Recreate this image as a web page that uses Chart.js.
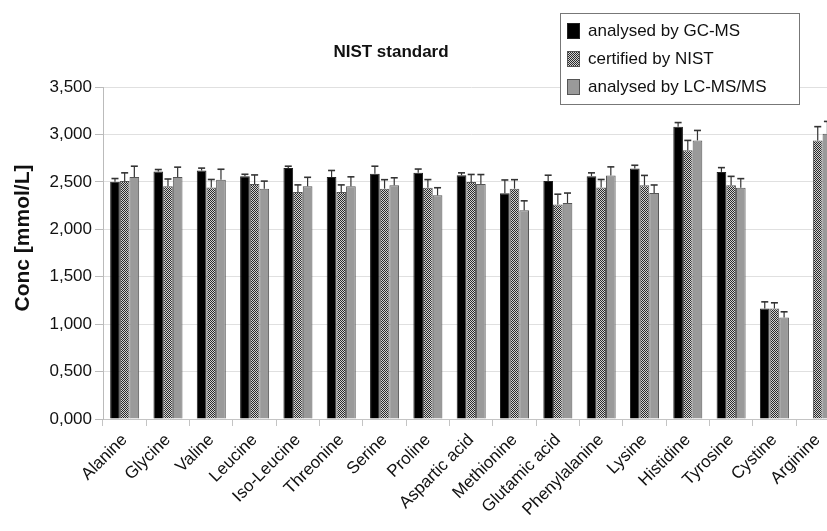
<!DOCTYPE html>
<html>
<head>
<meta charset="utf-8">
<script src="https://cdn.jsdelivr.net/npm/chart.js@4.4.0/dist/chart.umd.min.js"></script>
<style>
  html, body { margin: 0; padding: 0; background: #fff; overflow: hidden; }
  /* the reference is cropped on the right, so the canvas is wider than the window */
  #wrap { width: 827px; height: 531px; overflow: hidden; }
  canvas { display: block; }
</style>
</head>
<body>
<div id="wrap"><canvas id="nistChart" width="845" height="531"></canvas></div>
<script>
/* ── Data (mmol/L) ── */
const aminoAcids = ["Alanine", "Glycine", "Valine", "Leucine", "Iso-Leucine", "Threonine",
  "Serine", "Proline", "Aspartic acid", "Methionine", "Glutamic acid", "Phenylalanine",
  "Lysine", "Histidine", "Tyrosine", "Cystine", "Arginine"];

const gcms    = [2.500, 2.610, 2.620, 2.560, 2.645, 2.550, 2.585, 2.595, 2.570, 2.380, 2.510, 2.560, 2.640, 3.080, 2.605, 1.165, null];
const gcmsErr = [0.035, 0.020, 0.025, 0.020, 0.020, 0.070, 0.080, 0.040, 0.025, 0.140, 0.060, 0.035, 0.035, 0.045, 0.045, 0.070, 0];

const nist    = [2.510, 2.455, 2.440, 2.478, 2.393, 2.393, 2.428, 2.439, 2.498, 2.428, 2.260, 2.440, 2.463, 2.832, 2.463, 1.165, 2.937];
const nistErr = [0.085, 0.075, 0.085, 0.095, 0.075, 0.075, 0.095, 0.085, 0.080, 0.095, 0.110, 0.085, 0.105, 0.105, 0.095, 0.060, 0.145];

const lcms    = [2.550, 2.550, 2.523, 2.428, 2.453, 2.453, 2.463, 2.358, 2.477, 2.200, 2.277, 2.568, 2.382, 2.937, 2.439, 1.070, 3.007];
const lcmsErr = [0.115, 0.105, 0.110, 0.080, 0.095, 0.100, 0.080, 0.080, 0.100, 0.100, 0.105, 0.090, 0.085, 0.105, 0.095, 0.060, 0.130];

const seriesNames = ["analysed by GC-MS", "certified by NIST", "analysed by LC-MS/MS"];

/* ── Styling ── */
const FONT = "'Liberation Sans', Arial, sans-serif";
const TEXT = "#111";
Chart.defaults.font.family = FONT;

/* checkered fill for the NIST bars */
function checker() {
  const c = document.createElement("canvas");
  c.width = 2; c.height = 2;
  const g = c.getContext("2d");
  g.fillStyle = "#d2d2d2"; g.fillRect(0, 0, 2, 2);
  g.fillStyle = "#2a2a2a"; g.fillRect(0, 0, 1, 1); g.fillRect(1, 1, 1, 1);
  return g.createPattern(c, "repeat");
}
const NIST_FILL = checker();

/* ── Error bars (upper only, with cap) ── */
const errorBars = {
  id: "errorBars",
  afterDatasetsDraw(chart) {
    const ctx = chart.ctx, y = chart.scales.y;
    ctx.save();
    ctx.strokeStyle = "#333";
    chart.data.datasets.forEach((ds, i) => {
      chart.getDatasetMeta(i).data.forEach((bar, j) => {
        const v = ds.data[j];
        if (v == null || !ds.errors[j]) return;
        const top = y.getPixelForValue(v + ds.errors[j]);
        ctx.lineWidth = 1.2;
        ctx.beginPath(); ctx.moveTo(bar.x, bar.y); ctx.lineTo(bar.x, top); ctx.stroke();
        ctx.lineWidth = 1.6;
        ctx.beginPath(); ctx.moveTo(bar.x - 3.5, top); ctx.lineTo(bar.x + 3.5, top); ctx.stroke();
      });
    });
    ctx.restore();
  }
};

/* ── Title, axis title and boxed legend ── */
const decorations = {
  id: "decorations",
  afterDraw(chart) {
    const ctx = chart.ctx;
    ctx.save();
    ctx.fillStyle = TEXT;
    ctx.textBaseline = "middle";

    ctx.font = "bold 17px " + FONT;
    ctx.textAlign = "center";
    ctx.fillText("NIST standard", 391, 52);

    ctx.save();
    ctx.translate(23, 238);
    ctx.rotate(-Math.PI / 2);
    ctx.font = "bold 21px " + FONT;
    ctx.fillText("Conc [mmol/L]", 0, 0);
    ctx.restore();

    /* legend box */
    ctx.fillStyle = "#fff";
    ctx.fillRect(560, 13, 239, 91);
    ctx.strokeStyle = "#777";
    ctx.lineWidth = 1;
    ctx.strokeRect(560.5, 13.5, 239, 91);

    ctx.font = "17px " + FONT;
    ctx.textAlign = "left";
    chart.data.datasets.forEach((ds, i) => {
      const cy = 31 + i * 28;
      ctx.fillStyle = ds.backgroundColor;
      ctx.fillRect(567, cy - 8, 13, 16);
      ctx.strokeStyle = ds.borderColor;
      ctx.strokeRect(567.5, cy - 7.5, 12, 15);
      ctx.fillStyle = TEXT;
      ctx.fillText(ds.label, 588, cy);
    });
    ctx.restore();
  }
};

function bars(label, data, errors, fill, border) {
  return { label, data, errors, backgroundColor: fill, borderColor: border, borderWidth: 1,
    categoryPercentage: 0.67, barPercentage: 1.0 };
}

new Chart(document.getElementById("nistChart").getContext("2d"), {
  type: "bar",
  data: {
    labels: aminoAcids,
    datasets: [
      bars(seriesNames[0], gcms, gcmsErr, "#000", "#222"),
      bars(seriesNames[1], nist, nistErr, NIST_FILL, "#555"),
      bars(seriesNames[2], lcms, lcmsErr, "#9a9a9a", "#555"),
    ],
  },
  options: {
    responsive: false,
    animation: false,
    devicePixelRatio: 1,
    layout: { padding: { left: 0, top: 87, right: 5.6, bottom: 0 } },
    plugins: { legend: { display: false }, title: { display: false }, tooltip: { enabled: false } },
    scales: {
      x: {
        offset: true,
        grid: { offset: true, drawOnChartArea: false, drawTicks: true, tickLength: 7, color: "#c4c4c4" },
        border: { color: "#c4c4c4" },
        ticks: { color: TEXT, font: { size: 17 }, maxRotation: 45, minRotation: 45, autoSkip: false, padding: 4 },
        afterFit: s => { s.height = 112; },
      },
      y: {
        min: 0, max: 3.5,
        grid: { color: "#e0e0e0", tickLength: 8, tickColor: "#bbb" },
        border: { color: "#bbb" },
        ticks: { stepSize: 0.5, color: TEXT, font: { size: 17 }, padding: 3,
          callback: v => v.toFixed(3).replace(".", ",") },
        afterFit: s => { s.width = 103; },
      },
    },
  },
  plugins: [errorBars, decorations],
});
</script>
</body>
</html>
